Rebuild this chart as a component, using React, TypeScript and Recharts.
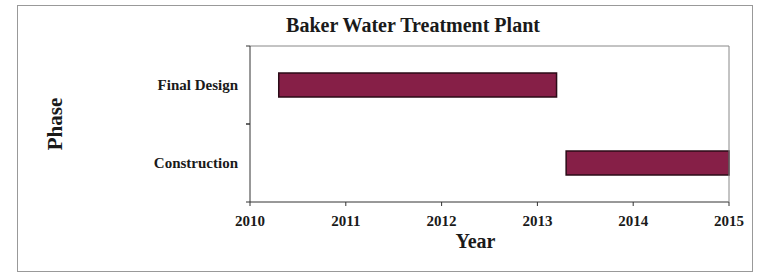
import { Bar, BarChart, XAxis, YAxis } from "recharts";

// Gantt-style phases
const phases = ["Final Design", "Construction"];
const startYears = [2010.3, 2013.3];
const endYears = [2013.2, 2015];
const yearTicks = [2010, 2011, 2012, 2013, 2014, 2015];

const chartData = phases.map((phase, i) => ({
  phase,
  span: [startYears[i], endYears[i]],
}));

const FONT = '"Liberation Serif", "Times New Roman", serif';
const INK = "#1a1a1a";

// category label plus a small tick mark at each band edge (Excel style)
const PhaseTick = (props: any) => {
  const { x, y, payload } = props;
  const half = payload?.offset ?? 39;
  const axisX = x + 12;
  return (
    <g>
      <line x1={axisX - 4} x2={axisX} y1={y - half} y2={y - half} stroke="#333" />
      <line x1={axisX - 4} x2={axisX} y1={y + half} y2={y + half} stroke="#333" />
      <text
        x={x}
        y={y}
        dy="0.35em"
        textAnchor="end"
        fontFamily={FONT}
        fontWeight="bold"
        fontSize={15}
        fill={INK}
      >
        {payload.value}
      </text>
    </g>
  );
};

export default function App() {
  return (
    <div style={{ position: "absolute", left: 0, top: 0, width: 757, height: 274, background: "#fff" }}>
      <div
        style={{
          position: "absolute",
          left: 17,
          top: 5,
          width: 734,
          height: 265,
          border: "1px solid #999",
        }}
      />
      <div
        style={{
          position: "absolute",
          left: 413,
          top: 15,
          transform: "translateX(-50%)",
          whiteSpace: "nowrap",
          fontFamily: FONT,
          fontWeight: "bold",
          fontSize: 20,
          lineHeight: "20px",
          color: INK,
        }}
      >
        Baker Water Treatment Plant
      </div>
      <div style={{ position: "absolute", left: 0, top: 0 }}>
        <BarChart
          width={757}
          height={274}
          data={chartData}
          layout="vertical"
          margin={{ top: 45, right: 27, bottom: 22, left: 40 }}
          barCategoryGap={0}
        >
          <XAxis
            type="number"
            domain={[2010, 2015]}
            ticks={yearTicks}
            interval={0}
            axisLine={{ stroke: "#333" }}
            tickLine={{ stroke: "#333" }}
            tickSize={4}
            tickMargin={9}
            height={50}
            tick={{ fill: INK, fontFamily: FONT, fontWeight: "bold", fontSize: 15 }}
            label={{
              value: "Year",
              position: "insideBottom",
              offset: 4,
              dx: -14,
              fill: INK,
              fontFamily: FONT,
              fontWeight: "bold",
              fontSize: 20,
            }}
          />
          <XAxis
            xAxisId="top"
            orientation="top"
            type="number"
            domain={[2010, 2015]}
            height={1}
            tick={false}
            tickLine={false}
            axisLine={{ stroke: "#888" }}
          />
          <YAxis
            type="category"
            dataKey="phase"
            width={210}
            axisLine={{ stroke: "#333" }}
            tickLine={false}
            tickSize={4}
            tickMargin={8}
            tick={<PhaseTick />}
            label={{
              value: "Phase",
              angle: -90,
              position: "insideLeft",
              offset: 15,
              fill: INK,
              fontFamily: FONT,
              fontWeight: "bold",
              fontSize: 21,
              style: { textAnchor: "middle" },
            }}
          />
          <YAxis
            yAxisId="right"
            orientation="right"
            type="category"
            dataKey="phase"
            width={1}
            tick={false}
            tickLine={false}
            axisLine={{ stroke: "#888" }}
          />
          <Bar
            dataKey="span"
            barSize={24}
            fill="#861f47"
            stroke="#2b0b17"
            strokeWidth={1.5}
            isAnimationActive={false}
          />
        </BarChart>
      </div>
    </div>
  );
}
